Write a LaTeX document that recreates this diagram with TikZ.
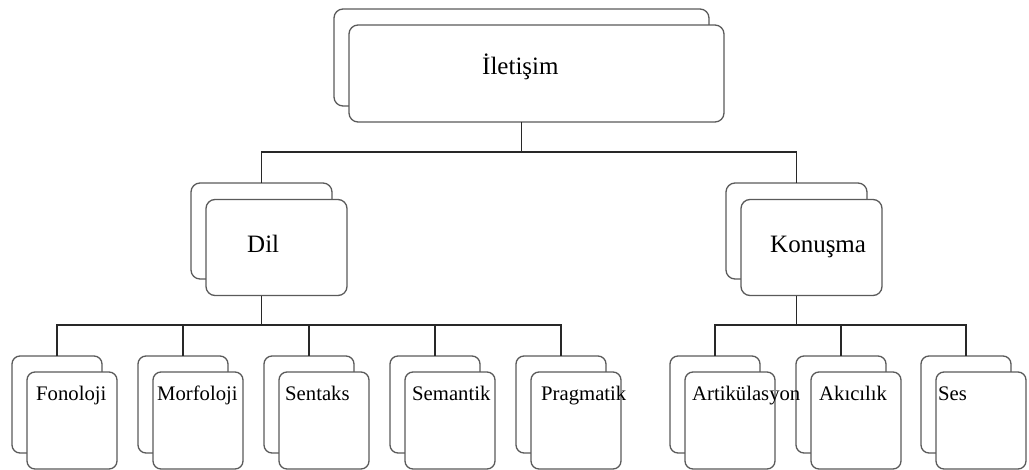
\documentclass[tikz,border=0pt]{standalone}
\usepackage{fontspec}
\setmainfont{Liberation Serif}
\tikzset{
  boxb/.style={draw=boxgray, line width=1.3pt, fill=white, rounded corners=9pt, inner sep=0pt, outer sep=0pt},
  leafb/.style={boxb, minimum width=90pt, minimum height=97pt, rounded corners=8pt},
  midb/.style={boxb, minimum width=141pt, minimum height=96pt},
  topb/.style={boxb, minimum width=375pt, minimum height=97pt},
  conn/.style={draw=conngray, line width=1.3pt},
  bigtxt/.style={inner sep=0pt, anchor=base west, font=\fontsize{25}{30}\selectfont},
  leaftxt/.style={inner sep=0pt, anchor=base west, font=\fontsize{20.7}{24}\selectfont},
}
\definecolor{boxgray}{RGB}{90,90,90}
\definecolor{conngray}{RGB}{40,40,40}
\begin{document}
\begin{tikzpicture}[x=1pt,y=-1pt]
\useasboundingbox (0,0) rectangle (1029,469);
% top
\node[topb] (top-b) at (521.5,57.5) {};
\node[topb] (top) at (536.5,73.5) {};
\node[bigtxt] (top-t) at (482,74) {İletişim};
% middle
\node[midb] (dil-b) at (261.5,231) {};
\node[midb] (dil) at (276.5,247.5) {};
\node[bigtxt] (dil-t) at (247,252) {Dil};
\node[midb] (kon-b) at (796.5,231) {};
\node[midb] (kon) at (811.5,247.5) {};
\node[bigtxt] (kon-t) at (770,252) {Konuşma};
% leaves (boxes first)
\foreach \n/\x in {fon/57, mor/183, sen/309, sem/435, pra/561, art/715, aki/841, ses/966}{
  \node[leafb] (\n-b) at (\x,404.5) {};
  \node[leafb] (\n) at (\x+15,420.5) {};
}
% leaf texts on top
\foreach \n/\tx/\t in {fon/36/Fonoloji, mor/157/Morfoloji, sen/285/Sentaks, sem/412/Semantik, pra/541/Pragmatik, art/692/Artikülasyon, aki/819/Akıcılık, ses/938/Ses}{
  \node[leaftxt] (\n-t) at (\tx,400) {\t};
}
% connectors
\coordinate (bar1) at (521.5,152);
\coordinate (bar2) at (261.5,325);
\coordinate (bar3) at (796.5,325);
\draw[conn] (top-b.south |- top.south) -- (bar1);
\draw[conn] (dil-b.north) -- (dil-b.north |- bar1) -- (kon-b.north |- bar1) -- (kon-b.north);
\draw[conn] (dil-b.south |- dil.south) -- (bar2);
\draw[conn] (fon-b.north) -- (fon-b.north |- bar2) -- (pra-b.north |- bar2) -- (pra-b.north);
\foreach \n in {mor,sen,sem}{ \draw[conn] (\n-b.north |- bar2) -- (\n-b.north); }
\draw[conn] (kon-b.south |- kon.south) -- (bar3);
\draw[conn] (art-b.north) -- (art-b.north |- bar3) -- (ses-b.north |- bar3) -- (ses-b.north);
\draw[conn] (aki-b.north |- bar3) -- (aki-b.north);
\end{tikzpicture}
\end{document}
